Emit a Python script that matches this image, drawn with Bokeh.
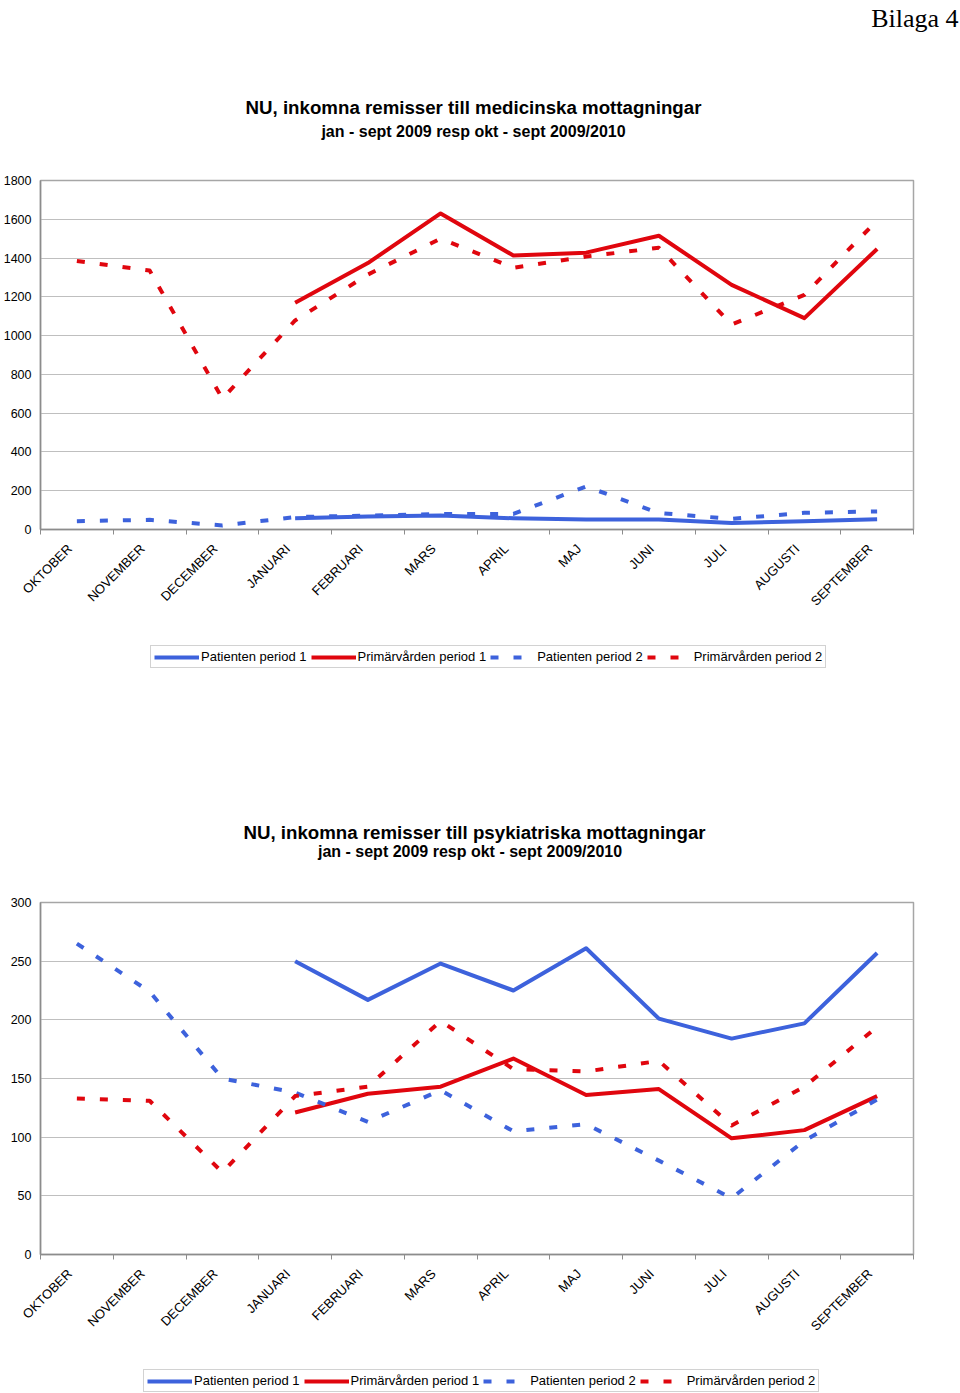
import math
from bokeh.plotting import figure
from bokeh.layouts import column
from bokeh.models import Range1d, FixedTicker, Legend, LegendItem, Title
from bokeh.core.properties import value
from bokeh.embed import file_html
from bokeh.resources import INLINE

nan = float("nan")

months = ["OKTOBER", "NOVEMBER", "DECEMBER", "JANUARI", "FEBRUARI", "MARS",
          "APRIL", "MAJ", "JUNI", "JULI", "AUGUSTI", "SEPTEMBER"]

series_names = ["Patienten period 1", "Primärvården period 1",
                "Patienten period 2", "Primärvården period 2"]

# Chart 1: medicinska mottagningar
med_pat_p1 = [nan, nan, nan, 58, 67, 72, 58, 52, 52, 33, 43, 53]
med_prim_p1 = [nan, nan, nan, 1170, 1374, 1630, 1413, 1428, 1515, 1262, 1090, 1447]
med_pat_p2 = [43, 50, 21, 64, 72, 80, 80, 222, 85, 55, 86, 93]
med_prim_p2 = [1385, 1336, 675, 1078, 1315, 1500, 1350, 1408, 1453, 1057, 1210, 1594]
med_yticks = [0, 200, 400, 600, 800, 1000, 1200, 1400, 1600, 1800]

# Chart 2: psykiatriska mottagningar
psy_pat_p1 = [nan, nan, nan, 250, 217, 248, 225, 261, 201, 184, 197, 257]
psy_prim_p1 = [nan, nan, nan, 121, 137, 143, 167, 136, 141, 99, 106, 135]
psy_pat_p2 = [265, 224, 150, 138, 113, 140, 105, 111, 80, 48, 97, 132]
psy_prim_p2 = [133, 131, 70, 135, 143, 199, 158, 156, 165, 110, 143, 194]
psy_yticks = [0, 50, 100, 150, 200, 250, 300]

title1 = "NU, inkomna remisser till medicinska mottagningar"
subtitle1 = "jan - sept 2009 resp okt - sept 2009/2010"
title2 = "NU, inkomna remisser till psykiatriska mottagningar"
subtitle2 = "jan - sept  2009 resp okt -  sept 2009/2010"
page_label = "Bilaga 4"

BLUE = "#3d62dc"
RED = "#e0060e"
FONT = "Liberation Sans"
W = 960
BORDER_L = 40
BORDER_R = 47
STYLES = [(BLUE, "solid"), (RED, "solid"), (BLUE, "8 15"), (RED, "8 15")]


def blank_figure(height, top=0, bottom=0, y0=0.0, y1=1.0):
    f = figure(width=W, height=height, output_backend="svg", toolbar_location=None,
               x_range=Range1d(BORDER_L, W - BORDER_R), y_range=Range1d(y0, y1),
               x_axis_location=None, y_axis_location=None,
               min_border_left=BORDER_L, min_border_right=BORDER_R,
               min_border_top=top, min_border_bottom=bottom)
    f.outline_line_color = None
    f.grid.grid_line_color = None
    f.background_fill_color = "white"
    f.border_fill_color = "white"
    return f


def make_header(height, top, texts, corner=None):
    # y data coordinates run downward, in pixels from the top of the header
    h = blank_figure(height, top=top, y0=height, y1=top)
    for (txt, x, y, size) in texts:
        h.text(x=[x], y=[y], text=[txt], text_font=value(FONT),
               text_font_size=value(size), text_font_style="bold",
               text_align="center", text_baseline="middle", text_color="#000000")
    if corner is not None:
        h.add_layout(Title(text=corner, align="right", offset=-45, standoff=0,
                           vertical_align="bottom", text_font="Liberation Serif",
                           text_font_size="26px", text_font_style="normal",
                           text_color="#000000"), "above")
    return h


def make_footer(height, legend_xy):
    f = blank_figure(height)
    keys = []
    for col, dash in STYLES:
        keys.append(f.line(x=[nan], y=[nan], line_color=col, line_width=4,
                           line_dash=dash, line_cap="butt"))
    items = [LegendItem(label=n, renderers=[r]) for n, r in zip(series_names, keys)]
    legend = Legend(items=items, location=legend_xy, orientation="horizontal",
                    glyph_width=45, glyph_height=14, label_height=14,
                    label_standoff=2, spacing=4, padding=3, margin=0,
                    border_line_color="#a6a6a6", border_line_width=1,
                    background_fill_color="white", background_fill_alpha=1.0,
                    label_text_font=FONT, label_text_font_size="13px",
                    label_text_color="#000000")
    f.add_layout(legend)
    return f


def make_chart(height, border_top, border_bottom, ymax, yticks, series):
    p = figure(width=W, height=height, output_backend="svg", toolbar_location=None,
               x_range=Range1d(0, len(months)), y_range=Range1d(0, ymax),
               min_border_left=BORDER_L, min_border_right=BORDER_R,
               min_border_top=border_top, min_border_bottom=border_bottom)
    p.background_fill_color = "white"
    p.border_fill_color = "white"
    p.outline_line_color = "#a6a6a6"
    p.outline_line_width = 1.5

    xs = [i + 0.5 for i in range(len(months))]
    label_pos = [i + 0.40 for i in range(len(months))]
    xa = p.xaxis[0]
    xa.ticker = FixedTicker(ticks=label_pos, minor_ticks=list(range(len(months) + 1)))
    xa.major_label_overrides = {t: m for t, m in zip(label_pos, months)}
    xa.major_label_orientation = math.pi / 4
    xa.major_tick_line_color = None
    xa.major_tick_out = 0
    xa.major_tick_in = 0
    xa.minor_tick_out = 5
    xa.minor_tick_in = 0
    xa.minor_tick_line_color = "#8c8c8c"
    xa.axis_line_color = "#8c8c8c"
    xa.axis_line_width = 1.5
    xa.major_label_standoff = 12
    xa.major_label_text_font = FONT
    xa.major_label_text_font_size = "13px"
    xa.major_label_text_color = "#000000"

    ya = p.yaxis[0]
    ya.ticker = FixedTicker(ticks=yticks)
    ya.major_tick_out = 0
    ya.major_tick_in = 0
    ya.minor_tick_line_color = None
    ya.axis_line_color = "#8c8c8c"
    ya.axis_line_width = 1.5
    ya.major_label_standoff = 9
    ya.major_label_text_font = FONT
    ya.major_label_text_font_size = "12.5px"
    ya.major_label_text_color = "#000000"

    p.xgrid.grid_line_color = None
    p.ygrid.ticker = FixedTicker(ticks=yticks)
    p.ygrid.grid_line_color = "#bfbfbf"
    p.ygrid.grid_line_width = 1.2

    for vals, (col, dash) in zip(series, STYLES):
        p.line(xs, vals, line_color=col, line_width=4, line_dash=dash,
               line_join="round", line_cap="butt")
    return p


h1 = make_header(172, 32, [(title1, 473, 107, "18.7px"), (subtitle1, 473, 131, "16px")],
                 corner=page_label)
p1 = make_chart(463, 8, 106, 1800, med_yticks,
                [med_pat_p1, med_prim_p1, med_pat_p2, med_prim_p2])
f1 = make_footer(75, (110, 42))

h2 = make_header(180, 0, [(title2, 474, 122, "18.7px"), (subtitle2, 474, 141, "16px")])
p2 = make_chart(460, 12, 96, 300, psy_yticks,
                [psy_pat_p1, psy_prim_p1, psy_pat_p2, psy_prim_p2])
f2 = make_footer(43, (103, 1))

layout = column(h1, p1, f1, h2, p2, f2, spacing=0)
open("out.html", "w").write(file_html(layout, INLINE))
